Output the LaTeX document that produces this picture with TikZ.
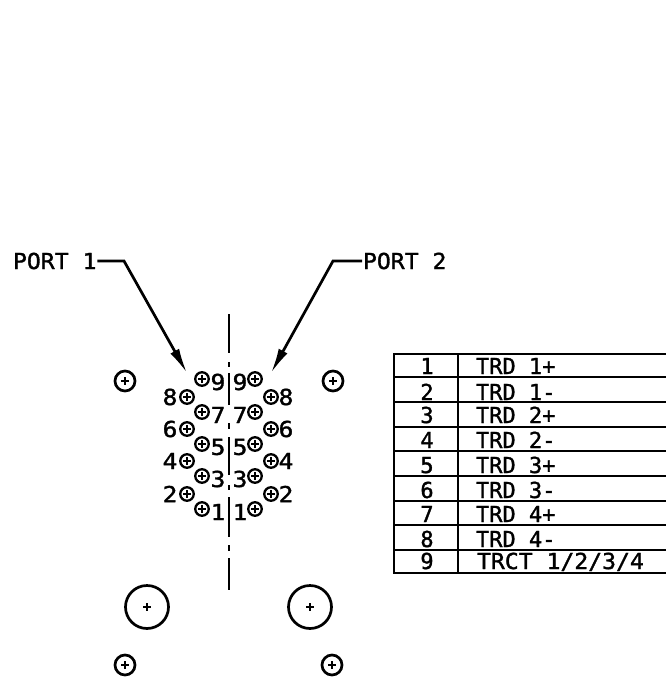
\documentclass[tikz,border=0pt]{standalone}
\usepackage{fontspec}
\setmainfont[FakeBold=1.5]{DejaVu Sans Mono}
\newfontfamily\widefont[FakeBold=1.5,FakeStretch=1.05]{DejaVu Sans Mono}
\newfontfamily\digitfont[FakeBold=1.5,FakeStretch=1.12]{DejaVu Sans Mono}
\usetikzlibrary{arrows.meta}
\begin{document}
\begin{tikzpicture}[x=1pt,y=-1pt,line cap=butt,
  every node/.style={inner sep=0pt,outer sep=0pt},
  hole/.style={circle,draw=black,line width=2.7pt,fill=white,
    path picture={\draw
      ([xshift=-#1]path picture bounding box.center)--([xshift=#1]path picture bounding box.center)
      ([yshift=-#1]path picture bounding box.center)--([yshift=#1]path picture bounding box.center);}},
  pinhole/.style={hole=3.6pt,minimum size=13.5pt,line width=2.3pt},
  smallhole/.style={hole=3.8pt,minimum size=20pt},
  bighole/.style={hole=3.8pt,minimum size=43pt},
  digit/.style={font=\digitfont\fontsize{22}{22}\selectfont,anchor=center},
  rowtext/.style={font=\fontsize{22}{22}\selectfont,anchor=base},
  porttext/.style={font=\widefont\fontsize{22}{22}\selectfont,anchor=west},
  leader/.style={line width=2.7pt,-{Latex[length=25pt,width=10pt]}},
  axisline/.style={line width=2.85pt},
  rule/.style={line width=2.85pt,line cap=rect}]
\useasboundingbox (0,0) rectangle (665,677);
% centre line
\coordinate (c0) at (229,314); \coordinate (c1) at (229,353);
\coordinate (c2) at (229,362); \coordinate (c3) at (229,367);
\coordinate (c4) at (229,373); \coordinate (c5) at (229,405);
\coordinate (c6) at (229,423); \coordinate (c7) at (229,429);
\coordinate (c8) at (229,437); \coordinate (c9) at (229,475);
\coordinate (c10) at (229,485); \coordinate (c11) at (229,490);
\coordinate (c12) at (229,497); \coordinate (c13) at (229,537);
\coordinate (c14) at (229,545); \coordinate (c15) at (229,551);
\coordinate (c16) at (229,558); \coordinate (c17) at (229,590);
\draw[axisline] (c0)--(c1) (c2)--(c3) (c4)--(c5) (c6)--(c7) (c8)--(c9)
  (c10)--(c11) (c12)--(c13) (c14)--(c15) (c16)--(c17);
% mounting holes
\node[smallhole] (h1) at (125,381) {};
\node[smallhole] (h2) at (333,381) {};
\node[smallhole] (h3) at (125,665) {};
\node[smallhole] (h4) at (332,665) {};
\node[bighole] (b1) at (147,607) {};
\node[bighole] (b2) at (310,607) {};
% inner pins
\foreach \n/\y in {9/379,7/412,5/444,3/476,1/509}{
  \node[pinhole] (la\n) at (202,\y) {};
  \node[pinhole] (ra\n) at (255,\y) {};
  \node[digit] (lat\n) at (218,\y+3) {\n};
  \node[digit] (rat\n) at (240,\y+3) {\n};
}
% outer pins
\foreach \n/\y in {8/397,6/429,4/461,2/494}{
  \node[pinhole] (lb\n) at (187,\y) {};
  \node[pinhole] (rb\n) at (271,\y) {};
  \node[digit] (lbt\n) at (170,\y) {\n};
  \node[digit] (rbt\n) at (286,\y) {\n};
}
% port labels and leaders
\node[porttext] (p1) at (13,261) {PORT 1};
\node[porttext] (p2) at (363,261) {PORT 2};
\coordinate (k1) at (124,261);
\coordinate (k2) at (333,261);
\coordinate (t1) at (187,373);
\coordinate (t2) at (271,373);
\draw[leader] (p1.east) ++(1,0) -- (k1) -- (t1);
\draw[leader] (p2.west) ++(-1,0) -- (k2) -- (t2);
% table
\coordinate (tc) at (458,354);
\foreach \y in {354,377,402,427,451,476,501,525,550,573}{
  \coordinate (a\y) at (394,\y);
  \coordinate (z\y) at (665,\y);
  \draw[rule] (a\y)--(z\y);
}
\draw[rule] (a354)--(a573);
\coordinate (cb) at (458,573);
\draw[rule] (tc)--(cb);
\foreach \i/\y/\t in {1/374/TRD 1+,2/400/TRD 1-,3/423/TRD 2+,4/448/TRD 2-,5/473/TRD 3+,6/498/TRD 3-,7/522/TRD 4+,8/547/TRD 4-}{
  \node[rowtext] (n\i) at (427,\y) {\i};
  \node[rowtext,anchor=base west] (v\i) at (476,\y) {\t};
}
\node[rowtext] (n9) at (427,569) {9};
\node[rowtext,anchor=base west,font=\widefont\fontsize{22}{22}\selectfont] (v9) at (477,569) {TRCT 1/2/3/4};
\end{tikzpicture}
\end{document}
